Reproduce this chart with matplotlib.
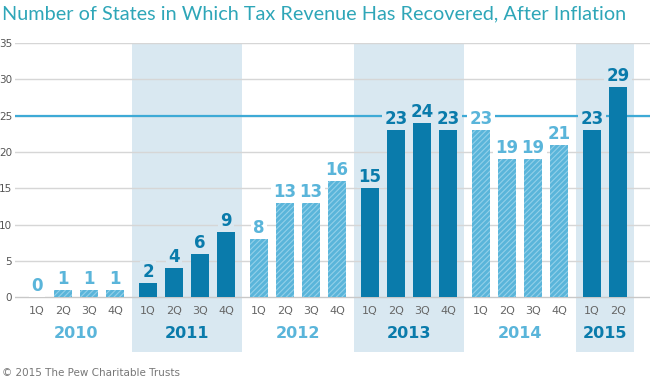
import numpy as np
import matplotlib.pyplot as plt

plt.rcParams['hatch.linewidth'] = 0.8

years = ['2010', '2011', '2012', '2013', '2014', '2015']
quarters = [['1Q', '2Q', '3Q', '4Q']] * 5 + [['1Q', '2Q']]
values = [[0, 1, 1, 1], [2, 4, 6, 9], [8, 13, 13, 16],
          [15, 23, 24, 23], [23, 19, 19, 21], [23, 29]]
dark_years = ['2011', '2013', '2015']
threshold = 25

DARK = '#0a7bab'
LIGHT = '#5ab5da'
HATCH = '#93d0e9'
BAND = '#d9e8f1'
GRID = '#d6d6d6'
TITLE = '#2ea6b8'

fig = plt.figure(figsize=(6.5, 3.84), dpi=100)
ax = fig.add_axes([15 / 650, 32 / 384, 635 / 650, 309 / 384])
ax.set_xlim(-0.846, 23.58)
ax.set_ylim(-7.52, 35)
for s in ax.spines.values():
    s.set_visible(False)

year_gap = 4.27
for j, (yr, qs, vals) in enumerate(zip(years, quarters, values)):
    x = np.arange(len(vals)) + j * year_gap
    dark = yr in dark_years
    if dark:
        ax.axvspan(x[0] - 0.615, x[-1] + 0.615, color=BAND, zorder=0, lw=0)
        ax.bar(x, vals, width=0.72, color=DARK, zorder=3, lw=0)
    else:
        ax.bar(x, vals, width=0.72, facecolor=LIGHT, edgecolor=HATCH,
               hatch='//////', lw=0, zorder=3)
    lab_col = DARK if dark else LIGHT
    bg = BAND if dark else 'white'
    for xi, v in zip(x, vals):
        ax.annotate(str(v), (xi, v), xytext=(0, 1.5), textcoords='offset points',
                    ha='center', va='bottom', fontsize=12, fontweight='bold',
                    color=lab_col, zorder=4,
                    bbox=dict(boxstyle='square,pad=0.12', fc=bg, ec='none'))
    for xi, q in zip(x, qs):
        ax.text(xi, -1.85, q, ha='center', va='center', fontsize=8,
                color='#666666')
    ax.text(x.mean(), -4.95, yr, ha='center', va='center', fontsize=11.5,
            fontweight='bold', color=lab_col)

for g in range(0, 36, 5):
    ax.axhline(g, color=GRID if g else '#c8c8c8', lw=1, zorder=1)
ax.axhline(threshold, color='#3eaad6', lw=1.6, zorder=2)

ax.set_xticks([])
ax.set_yticks(range(0, 36, 5))
ax.tick_params(axis='y', length=0, pad=2, labelsize=7.5, labelcolor='#555555')

fig.text(0.003, 0.985, 'Number of States in Which Tax Revenue Has Recovered, After Inflation',
         ha='left', va='top', fontsize=14.3, color=TITLE, family='Lato',
         fontweight='normal')
fig.text(0.003, 0.016, '\u00a9 2015 The Pew Charitable Trusts', ha='left',
         va='bottom', fontsize=7.5, color='#777777')

fig.savefig('out.png', dpi=100)
